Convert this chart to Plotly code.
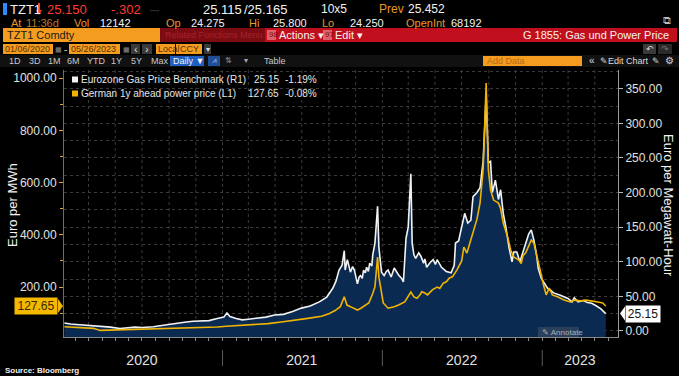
import plotly.graph_objects as go
import pandas as pd

# ---------------- DATA ----------------
gas_dates = ["2020-01-06","2020-01-20","2020-02-10","2020-02-24","2020-03-12","2020-03-30","2020-04-20",
    "2020-05-12","2020-05-28","2020-06-15","2020-07-01","2020-07-27","2020-08-15","2020-09-04","2020-09-20",
    "2020-10-10","2020-10-26","2020-11-15","2020-12-01","2020-12-20","2021-01-04","2021-01-11","2021-01-18",
    "2021-02-01","2021-02-15","2021-03-01","2021-03-20","2021-04-10","2021-04-30","2021-05-20","2021-06-10",
    "2021-06-30","2021-07-20","2021-08-10","2021-08-27","2021-09-10","2021-09-17","2021-09-24","2021-10-01",
    "2021-10-06","2021-10-08","2021-10-13","2021-10-20","2021-10-25","2021-10-29","2021-11-02","2021-11-05",
    "2021-11-09","2021-11-12","2021-11-16","2021-11-19","2021-11-23","2021-11-26","2021-11-30","2021-12-03",
    "2021-12-08","2021-12-10","2021-12-15","2021-12-21","2021-12-24","2021-12-30","2022-01-05","2022-01-10",
    "2022-01-14","2022-01-21","2022-01-28","2022-02-03","2022-02-07","2022-02-14","2022-02-18","2022-02-24",
    "2022-03-01","2022-03-07","2022-03-10","2022-03-14","2022-03-18","2022-03-25","2022-03-30","2022-04-05",
    "2022-04-08","2022-04-12","2022-04-20","2022-04-27","2022-05-02","2022-05-06","2022-05-10","2022-05-16",
    "2022-05-27","2022-06-07","2022-06-14","2022-06-17","2022-06-24","2022-07-01","2022-07-08","2022-07-15",
    "2022-07-22","2022-07-27","2022-08-05","2022-08-12","2022-08-19","2022-08-26","2022-08-31","2022-09-05",
    "2022-09-09","2022-09-16","2022-09-23","2022-09-28","2022-10-04","2022-10-10","2022-10-17","2022-10-24",
    "2022-10-28","2022-11-04","2022-11-11","2022-11-18","2022-11-25","2022-12-01","2022-12-07","2022-12-13",
    "2022-12-19","2022-12-23","2022-12-30","2023-01-06","2023-01-13","2023-01-20","2023-01-27","2023-02-10",
    "2023-02-20","2023-03-01","2023-03-10","2023-03-15","2023-03-24","2023-04-05","2023-04-14","2023-04-24",
    "2023-05-05","2023-05-15","2023-05-26"]
gas_values = [11.5,10,9,8.5,7,6.5,5.5,3.5,4.5,5.5,5,6,8,10,12,13,14,14,15,18,20,26,21,18,16,17,18,20,23,24,28,
    33,36,42,49,62,72,88,95,116,88,103,85,93,88,75,68,78,80,76,88,84,92,86,98,94,110,127,180,121,85,80,86,88,78,
    91,84,81,76,71,134,150,227,127,110,105,113,108,98,104,92,99,103,96,103,99,92,86,84,95,127,130,150,170,156,
    160,194,200,207,245,340,243,245,200,218,190,204,170,150,121,100,114,114,100,114,127,140,146,131,110,90,76,
    69,62,59,55,52,49,47,42,48,42,44,41,40,36,32,25.15]

power_dates = ["2020-01-06","2020-02-10","2020-03-12","2020-03-28","2020-04-20","2020-05-28","2020-07-01",
    "2020-08-10","2020-09-20","2020-10-26","2020-11-20","2020-12-20","2021-01-10","2021-02-15","2021-03-15",
    "2021-04-15","2021-05-15","2021-06-15","2021-07-15","2021-08-15","2021-09-01","2021-09-15","2021-09-27",
    "2021-10-06","2021-10-12","2021-10-20","2021-11-05","2021-11-12","2021-11-18","2021-12-01","2021-12-10",
    "2021-12-15","2021-12-21","2021-12-24","2022-01-03","2022-01-14","2022-01-28","2022-02-07","2022-02-21",
    "2022-03-07","2022-03-14","2022-03-21","2022-03-28","2022-04-01","2022-04-08","2022-04-14","2022-04-25",
    "2022-05-06","2022-05-12","2022-05-20","2022-05-27","2022-06-03","2022-06-10","2022-06-20","2022-07-01",
    "2022-07-06","2022-07-13","2022-07-22","2022-07-29","2022-08-05","2022-08-12","2022-08-19","2022-08-26",
    "2022-08-31","2022-09-05","2022-09-12","2022-09-23","2022-09-28","2022-10-04","2022-10-14","2022-10-21",
    "2022-10-28","2022-11-08","2022-11-14","2022-11-18","2022-11-24","2022-11-30","2022-12-07","2022-12-13",
    "2022-12-20","2022-12-28","2023-01-04","2023-01-10","2023-01-17","2023-01-24","2023-02-06","2023-02-20",
    "2023-03-06","2023-03-15","2023-03-30","2023-04-11","2023-04-24","2023-05-08","2023-05-19","2023-05-26"]
power_values = [48,44,42,34,35,37,39,40,43,42,44,47,50,53,55,60,66,72,80,88,98,110,125,163,131,125,112,118,125,
    139,175,201,315,238,139,119,125,131,143,181,162,157,170,182,177,170,189,200,195,215,220,235,239,265,300,353,
    330,380,418,460,522,648,981,648,571,533,522,500,445,392,342,315,304,290,320,330,353,380,368,315,254,208,170,
    196,170,162,150,143,150,147,150,148,143,139,127.65]

gas_name = "Eurozone Gas Price Benchmark (R1)"
power_name = "German 1y ahead power price (L1)"
gas_change = "-1.19%"
power_change = "-0.08%"
year_labels = ["2020", "2021", "2022", "2023"]
year_label_pos = ["2020-07-01", "2021-07-01", "2022-07-01", "2023-03-28"]
year_bounds = ["2021-01-01", "2022-01-01", "2023-01-01"]

# ---------------- LAYOUT CONSTANTS ----------------
W, H = 679, 376
PL, PR, PT, PB = 64, 618, 70, 337
FONT = "Arial, Liberation Sans, sans-serif"
GAS_RANGE = [-8.7, 377]
POW_RANGE = [8.8, 1031]
X_RANGE = ["2020-01-05", "2023-06-23"]
WHITE = "#f2f2f2"
YELLOW = "#f0b400"
NAVY = "#0b2a52"
ORANGE = "#f39c1f"
LBL_OR = "#e8962a"
RED = "#ff3b30"

def px(x):
    return (x - PL) / (PR - PL)

def py(y):
    return (PB - y) / (PB - PT)

annotations = []
shapes = []

def txt(x, y, text, color=WHITE, size=12, anchor="left", bg=None, angle=0, bold=False, yanchor="middle"):
    if bold:
        text = "<b>" + text + "</b>"
    d = dict(xref="paper", yref="paper", x=px(x), y=py(y), text=text, showarrow=False,
             xanchor=anchor, yanchor=yanchor, textangle=angle,
             font=dict(family=FONT, size=size, color=color), borderpad=0)
    if bg:
        d["bgcolor"] = bg
    annotations.append(d)

def rect(x0, y0, x1, y1, color, layer="above"):
    shapes.append(dict(type="rect", xref="paper", yref="paper", x0=px(x0), x1=px(x1),
                       y0=py(y1), y1=py(y0), fillcolor=color, line=dict(width=0), layer=layer))

# ---------------- TRACES ----------------
fig = go.Figure()
fig.add_trace(go.Scatter(x=[gas_dates[0], gas_dates[-1]], y=[GAS_RANGE[0]] * 2, mode="lines",
                         line=dict(width=0), hoverinfo="skip", showlegend=False, yaxis="y"))
fig.add_trace(go.Scatter(x=pd.to_datetime(gas_dates), y=gas_values, mode="lines", name=gas_name,
                         line=dict(color=WHITE, width=1.6), fill="tonexty", fillcolor=NAVY,
                         showlegend=False, yaxis="y"))
fig.add_trace(go.Scatter(x=pd.to_datetime(power_dates), y=power_values, mode="lines", name=power_name,
                         line=dict(color=YELLOW, width=1.6), showlegend=False, yaxis="y2"))

for d in pd.date_range("2020-01-01", "2023-06-01", freq="2MS"):
    shapes.append(dict(type="line", xref="x", yref="paper", x0=d, x1=d, y0=0, y1=1,
                       line=dict(color="#3a3a3a", width=1, dash="dot"), layer="below"))
for d in year_bounds:
    shapes.append(dict(type="line", xref="x", yref="paper", x0=d, x1=d, y0=py(350), y1=py(366),
                       line=dict(color="#5a5a5a", width=1)))

# ---------------- HEADER ----------------
rect(3, 3, 7, 15, "#2a8cff")
txt(9, 9, "TZT1", WHITE, 13)
rect(38, 3, 40, 11, RED)
shapes.append(dict(type="path", xref="paper", yref="paper",
                   path="M {a},{b} L {c},{b} L {d},{e} Z".format(a=px(36), c=px(42), d=px(39),
                                                                  b=py(10), e=py(15)),
                   fillcolor=RED, line=dict(width=0)))
txt(46, 9, "25.150", RED, 13)
txt(110, 9, "-.302", RED, 13)
txt(148, 7, "﹏", "#9a9a9a", 10)
txt(202, 9, "25.115", WHITE, 13)
txt(243, 9, "/25.165", WHITE, 13)
txt(320, 9, "10x5", WHITE, 12)
txt(378, 9, "Prev", LBL_OR, 12)
txt(407, 9, "25.452", WHITE, 12)
txt(10, 23, "At", LBL_OR, 11)
txt(25, 23, "11:36d", "#b9772a", 11)
txt(73, 23, "Vol", LBL_OR, 11)
txt(99, 23, "12142", WHITE, 11)
txt(165, 23, "Op", LBL_OR, 11)
txt(190, 23, "24.275", WHITE, 11)
txt(248, 23, "Hi", LBL_OR, 11)
txt(272, 23, "25.800", WHITE, 11)
txt(321, 23, "Lo", LBL_OR, 11)
txt(349, 23, "24.250", WHITE, 11)
txt(405, 23, "OpenInt", LBL_OR, 11)
txt(450, 23, "68192", WHITE, 11)
txt(667, 20, "⧉", "#bbbbbb", 11, anchor="center")
rect(3, 28, 160, 42, ORANGE)
rect(160, 28, 265, 42, "#7d0c12")
rect(265, 28, 677, 42, "#c20f1e")
txt(6, 35, "TZT1 Comdty", "#1a1a1a", 11)
txt(164, 35, "Related Functions Menu", "#a3222a", 9)
rect(267, 30, 276, 40, "#e0606a")
txt(268, 35, "98", "#7d0c12", 8)
txt(278, 35, "Actions ▾", WHITE, 11)
rect(323, 30, 332, 40, "#e0606a")
txt(324, 35, "97", "#7d0c12", 8)
txt(334, 35, "Edit ▾", WHITE, 11)
txt(670, 35, "G 1855: Gas und Power Price", WHITE, 11, anchor="right")
rect(3, 44, 53, 54, ORANGE)
txt(4, 49, "01/06/2020", "#5a3000", 9)
txt(58, 49, "▦", "#888888", 7, anchor="center")
txt(65, 49, "-", "#cccccc", 10, anchor="center")
rect(69, 44, 120, 54, ORANGE)
txt(70, 49, "05/26/2023", "#5a3000", 9)
txt(126, 49, "▦", "#888888", 7, anchor="center")
rect(131, 44, 140, 54, "#3a3a3a")
txt(135.5, 49, "‹", "#dddddd", 11, anchor="center")
rect(142, 44, 152, 54, "#3a3a3a")
txt(147, 49, "›", "#dddddd", 11, anchor="center")
rect(156, 44, 175, 54, ORANGE)
rect(176, 44, 202, 54, ORANGE)
txt(157, 49, "Local", "#5a3000", 9)
txt(179, 49, "CCY", "#5a3000", 9)
rect(204, 44, 211, 54, "#3a3a3a")
txt(207.5, 49, "▾", "#dddddd", 8, anchor="center")
rect(643, 44, 656, 54, "#3a3a3a")
rect(658, 44, 672, 54, "#2a2a2a")
txt(649.5, 49, "↶", "#dddddd", 9, anchor="center")
txt(665, 49, "↷", "#777777", 9, anchor="center")
rect(0, 55, 679, 67, "#111111")
for lbl, x in [("1D", 8), ("3D", 28), ("1M", 47), ("6M", 66), ("YTD", 86), ("1Y", 110),
               ("5Y", 130), ("Max", 150)]:
    txt(x, 61, lbl, "#c8c8c8", 9)
rect(170, 56, 204, 66, "#1f5fc4")
txt(172, 61, "Daily ▼", WHITE, 9)
rect(208, 56, 220, 66, "#1f4f99")
txt(214, 61, "⩘", "#9fc4ff", 8, anchor="center")
txt(228, 61, "⇅", "#888888", 8, anchor="center")
txt(246, 61, "▾", "#aaaaaa", 8, anchor="center")
txt(263, 61, "Table", "#c8c8c8", 9)
rect(483, 56, 582, 66, "#f39c1f")
txt(486, 61, "Add Data", "#b86a12", 9)
txt(588, 61, "«", "#dddddd", 10)
txt(599, 61, "✎", "#dddddd", 9)
txt(607, 61, "Edit Chart", "#dddddd", 9)
txt(651, 61, "✎", "#dddddd", 9)
txt(664, 61, "⚙", "#dddddd", 10)

# ---------------- LEGEND ----------------
rows = [(79.5, WHITE, gas_name, "25.15", 253, gas_change),
        (93.5, YELLOW, power_name, "127.65", 247, power_change)]
for y, c, name, val, vx, ch in rows:
    rect(72, y - 3, 78, y + 3, c)
    txt(80, y, name, "#e6e6e6", 10)
    txt(vx, y, val, "#e6e6e6", 10)
    txt(318, y, ch, "#e6e6e6", 10, anchor="right")

txt(12, 205, "Euro per MWh", WHITE, 13, anchor="center", angle=-90)
txt(669, 205, "Euro per Megawatt-Hour", WHITE, 13, anchor="center", angle=90)

rect(538, 327, 579, 337, "rgba(70,80,95,0.55)")
txt(541, 332, "✎ Annotate", "#a9b0b8", 8)

txt(4, 370, "Source: Bloomberg", WHITE, 8, bold=True)

annotations.append(dict(xref="paper", yref="y2", x=px(58), y=power_values[-1], text="127.65",
                        showarrow=False, xanchor="right", yanchor="middle", bgcolor="#f5b800",
                        font=dict(family=FONT, size=12, color="#3b2a00"), borderpad=1, width=40))
shapes.append(dict(type="path", xref="paper", yref="y2", xsizemode="pixel", ysizemode="pixel",
                   xanchor=px(58), yanchor=power_values[-1], path="M 0,-7 L 5,0 L 0,7 Z",
                   fillcolor="#f5b800", line=dict(width=0)))
annotations.append(dict(xref="paper", yref="y", x=px(625), y=gas_values[-1], text="25.15",
                        showarrow=False, xanchor="left", yanchor="middle", bgcolor="#ffffff",
                        font=dict(family=FONT, size=12, color="#111111"), borderpad=1, width=32))
shapes.append(dict(type="path", xref="paper", yref="y", xsizemode="pixel", ysizemode="pixel",
                   xanchor=px(625), yanchor=gas_values[-1], path="M 0,-7 L -5,0 L 0,7 Z",
                   fillcolor="#ffffff", line=dict(width=0)))

fig.update_layout(
    width=W, height=H,
    margin=dict(l=PL, r=W - PR, t=PT, b=H - PB, pad=0, autoexpand=False),
    paper_bgcolor="#000000", plot_bgcolor="#000000",
    font=dict(family=FONT, color=WHITE),
    showlegend=False,
    xaxis=dict(range=X_RANGE, type="date", tickmode="array", tickvals=year_label_pos,
               ticktext=year_labels, ticks="", showgrid=False, zeroline=False, automargin=False,
               showline=True, linecolor="#8a8a8a", linewidth=1,
               tickfont=dict(size=14, color="#e0e0e0"), ticklabelstandoff=10,
               minor=dict(tickmode="linear", tick0="2020-01-01", dtick="M1", ticks="outside",
                          ticklen=3, tickcolor="#8a8a8a", showgrid=False)),
    yaxis=dict(range=GAS_RANGE, side="right", tickmode="linear", tick0=0, dtick=50, automargin=False,
               tickformat=".2f", ticks="outside", ticklen=4, tickcolor="#bbbbbb",
               tickfont=dict(size=12, color="#e0e0e0"), showline=True, linecolor="#9a9a9a",
               showgrid=True, gridcolor="#3a3a3a", griddash="dot", zeroline=False,
               minor=dict(dtick=25, showgrid=True, gridcolor="#3a3a3a", griddash="dot")),
    yaxis2=dict(range=POW_RANGE, side="left", overlaying="y", tickmode="linear", tick0=0, dtick=200,
                automargin=False,
                tickformat=".2f", ticks="outside", ticklen=4, tickcolor="#cfa64a",
                tickfont=dict(size=12, color="#e0e0e0"), showline=True, linecolor="#8a6a2a",
                showgrid=False, zeroline=False,
                minor=dict(dtick=100, ticks="outside", ticklen=3, tickcolor="#cfa64a")),
    annotations=annotations, shapes=shapes,
)

fig.write_html("out.html", config={"displayModeBar": False},
               post_script="document.body.style.margin='0';document.body.style.background='#000';")
